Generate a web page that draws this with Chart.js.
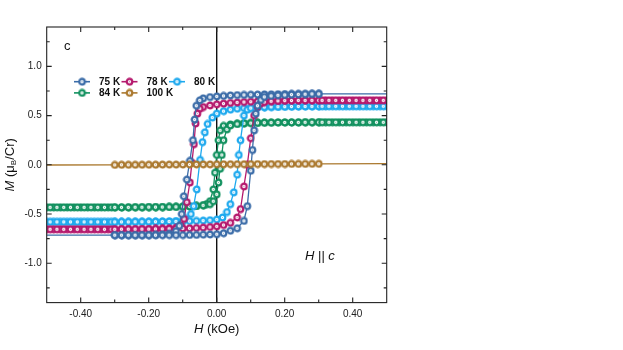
<!DOCTYPE html>
<html>
<head>
<meta charset="utf-8">
<script src="https://cdn.jsdelivr.net/npm/chart.js@4.4.0/dist/chart.umd.min.js"></script>
<style>
  body { margin: 0; background: #fff; }
  canvas { display: block; }
</style>
</head>
<body>
<canvas id="myChart" width="623" height="350"></canvas>
<script>
const temps = ['75 K', '78 K', '80 K', '84 K', '100 K']
const colors = ['#3b6ca8', '#b5196d', '#1ea9ee', '#12915f', '#ab792f']

const xTicks = [-0.4, -0.2, 0, 0.2, 0.4]
const xMinor = [-0.3, -0.1, 0.1, 0.3]
const yTicks = [-1.0, -0.5, 0, 0.5, 1.0]
const yMinor = [-1.25, -0.75, -0.25, 0.25, 0.75, 1.25]

// sweeps, [H (kOe), M (muB/Cr)]
// 75 K and 100 K only have markers between -0.3 and 0.3
const down75 = [[0.50,0.72],[0.30,0.72],[0.28,0.72],[0.26,0.72],[0.24,0.72],[0.22,0.72],[0.20,0.718],[0.18,0.717],[0.16,0.716],[0.14,0.715],[0.12,0.713],[0.10,0.712],[0.08,0.71],[0.06,0.708],[0.04,0.705],[0.02,0.70],[0.00,0.695],[-0.02,0.688],[-0.04,0.675],[-0.05,0.655],[-0.06,0.60],[-0.065,0.46],[-0.07,0.25],[-0.079,0.04],[-0.088,-0.15],[-0.097,-0.32],[-0.103,-0.50],[-0.11,-0.62],[-0.12,-0.675],[-0.14,-0.70],[-0.16,-0.708],[-0.18,-0.712],[-0.20,-0.714],[-0.22,-0.715],[-0.24,-0.715],[-0.26,-0.715],[-0.28,-0.715],[-0.30,-0.715],[-0.50,-0.715]]
const up75 = [[-0.50,-0.715],[-0.30,-0.715],[-0.28,-0.715],[-0.26,-0.715],[-0.24,-0.715],[-0.22,-0.715],[-0.20,-0.715],[-0.18,-0.715],[-0.16,-0.715],[-0.14,-0.715],[-0.12,-0.715],[-0.10,-0.714],[-0.08,-0.713],[-0.06,-0.712],[-0.04,-0.71],[-0.02,-0.708],[0.00,-0.705],[0.02,-0.695],[0.04,-0.67],[0.06,-0.645],[0.08,-0.57],[0.09,-0.42],[0.10,-0.06],[0.105,0.15],[0.11,0.35],[0.115,0.52],[0.12,0.60],[0.13,0.66],[0.14,0.69],[0.16,0.70],[0.18,0.706],[0.20,0.71],[0.22,0.713],[0.24,0.716],[0.26,0.718],[0.28,0.72],[0.30,0.72],[0.50,0.72]]

const down78 = [[0.50,0.655],[0.48,0.655],[0.46,0.655],[0.44,0.655],[0.42,0.655],[0.40,0.655],[0.38,0.655],[0.36,0.655],[0.34,0.655],[0.32,0.655],[0.30,0.655],[0.28,0.654],[0.26,0.654],[0.24,0.653],[0.22,0.652],[0.20,0.651],[0.18,0.65],[0.16,0.648],[0.14,0.646],[0.12,0.644],[0.10,0.641],[0.08,0.638],[0.06,0.634],[0.04,0.629],[0.02,0.622],[0.00,0.614],[-0.02,0.603],[-0.04,0.587],[-0.05,0.57],[-0.057,0.52],[-0.062,0.42],[-0.067,0.21],[-0.073,0.02],[-0.079,-0.18],[-0.088,-0.38],[-0.096,-0.55],[-0.105,-0.615],[-0.12,-0.64],[-0.14,-0.647],[-0.16,-0.65],[-0.18,-0.652],[-0.20,-0.653],[-0.22,-0.653],[-0.24,-0.654],[-0.26,-0.654],[-0.28,-0.654],[-0.30,-0.655],[-0.32,-0.655],[-0.34,-0.655],[-0.36,-0.655],[-0.38,-0.655],[-0.40,-0.655],[-0.42,-0.655],[-0.44,-0.655],[-0.46,-0.655],[-0.48,-0.655],[-0.50,-0.655]]
const up78 = [[-0.49,-0.655],[-0.47,-0.655],[-0.45,-0.655],[-0.43,-0.655],[-0.41,-0.655],[-0.39,-0.655],[-0.37,-0.655],[-0.35,-0.655],[-0.33,-0.655],[-0.31,-0.655],[-0.30,-0.655],[-0.28,-0.654],[-0.26,-0.654],[-0.24,-0.654],[-0.22,-0.653],[-0.20,-0.653],[-0.18,-0.652],[-0.16,-0.651],[-0.14,-0.65],[-0.12,-0.649],[-0.10,-0.647],[-0.08,-0.645],[-0.06,-0.642],[-0.04,-0.638],[-0.02,-0.632],[0.00,-0.625],[0.02,-0.612],[0.04,-0.59],[0.06,-0.535],[0.07,-0.45],[0.08,-0.22],[0.09,0.00],[0.10,0.27],[0.11,0.50],[0.12,0.59],[0.13,0.625],[0.14,0.638],[0.16,0.646],[0.18,0.65],[0.20,0.652],[0.22,0.653],[0.24,0.654],[0.26,0.654],[0.28,0.655],[0.30,0.655],[0.31,0.655],[0.33,0.655],[0.35,0.655],[0.37,0.655],[0.39,0.655],[0.41,0.655],[0.43,0.655],[0.45,0.655],[0.47,0.655],[0.49,0.655]]

const down80 = [[0.50,0.595],[0.48,0.595],[0.46,0.595],[0.44,0.595],[0.42,0.595],[0.40,0.595],[0.38,0.595],[0.36,0.595],[0.34,0.595],[0.32,0.594],[0.30,0.594],[0.28,0.593],[0.26,0.593],[0.24,0.592],[0.22,0.591],[0.20,0.59],[0.18,0.589],[0.16,0.587],[0.14,0.585],[0.12,0.583],[0.10,0.58],[0.08,0.576],[0.06,0.57],[0.04,0.56],[0.02,0.545],[0.00,0.52],[-0.013,0.48],[-0.027,0.415],[-0.035,0.33],[-0.042,0.23],[-0.049,0.05],[-0.059,-0.25],[-0.068,-0.42],[-0.076,-0.50],[-0.09,-0.55],[-0.10,-0.565],[-0.12,-0.572],[-0.14,-0.575],[-0.16,-0.577],[-0.18,-0.578],[-0.20,-0.578],[-0.22,-0.579],[-0.24,-0.579],[-0.26,-0.58],[-0.28,-0.58],[-0.30,-0.58],[-0.32,-0.58],[-0.34,-0.58],[-0.36,-0.58],[-0.38,-0.58],[-0.40,-0.58],[-0.42,-0.58],[-0.44,-0.58],[-0.46,-0.58],[-0.48,-0.58],[-0.50,-0.58]]
const up80 = [[-0.49,-0.58],[-0.47,-0.58],[-0.45,-0.58],[-0.43,-0.58],[-0.41,-0.58],[-0.39,-0.58],[-0.37,-0.58],[-0.35,-0.58],[-0.33,-0.58],[-0.31,-0.58],[-0.30,-0.58],[-0.28,-0.58],[-0.26,-0.58],[-0.24,-0.579],[-0.22,-0.579],[-0.20,-0.578],[-0.18,-0.578],[-0.16,-0.577],[-0.14,-0.576],[-0.12,-0.575],[-0.10,-0.574],[-0.08,-0.572],[-0.06,-0.57],[-0.04,-0.567],[-0.02,-0.563],[0.00,-0.556],[0.017,-0.535],[0.03,-0.48],[0.04,-0.40],[0.05,-0.28],[0.06,-0.10],[0.065,0.10],[0.07,0.25],[0.08,0.50],[0.09,0.56],[0.10,0.576],[0.12,0.584],[0.14,0.587],[0.16,0.589],[0.18,0.59],[0.20,0.591],[0.22,0.592],[0.24,0.593],[0.26,0.593],[0.28,0.594],[0.30,0.594],[0.31,0.595],[0.33,0.595],[0.35,0.595],[0.37,0.595],[0.39,0.595],[0.41,0.595],[0.43,0.595],[0.45,0.595],[0.47,0.595],[0.49,0.595]]

const down84 = [[0.50,0.432],[0.48,0.432],[0.46,0.432],[0.44,0.432],[0.42,0.432],[0.40,0.432],[0.38,0.432],[0.36,0.432],[0.34,0.432],[0.32,0.432],[0.30,0.432],[0.28,0.432],[0.26,0.432],[0.24,0.431],[0.22,0.431],[0.20,0.43],[0.18,0.43],[0.16,0.429],[0.14,0.428],[0.12,0.427],[0.10,0.425],[0.08,0.422],[0.06,0.418],[0.04,0.41],[0.02,0.395],[0.01,0.35],[0.005,0.25],[0.00,0.10],[-0.005,-0.08],[-0.01,-0.25],[-0.02,-0.37],[-0.03,-0.40],[-0.04,-0.41],[-0.06,-0.418],[-0.08,-0.422],[-0.10,-0.425],[-0.12,-0.427],[-0.14,-0.428],[-0.16,-0.429],[-0.18,-0.43],[-0.20,-0.43],[-0.22,-0.431],[-0.24,-0.431],[-0.26,-0.432],[-0.28,-0.432],[-0.30,-0.432],[-0.32,-0.432],[-0.34,-0.432],[-0.36,-0.432],[-0.38,-0.432],[-0.40,-0.432],[-0.42,-0.432],[-0.44,-0.432],[-0.46,-0.432],[-0.48,-0.432],[-0.50,-0.432]]
const up84 = [[-0.49,-0.432],[-0.47,-0.432],[-0.45,-0.432],[-0.43,-0.432],[-0.41,-0.432],[-0.39,-0.432],[-0.37,-0.432],[-0.35,-0.432],[-0.33,-0.432],[-0.31,-0.432],[-0.30,-0.432],[-0.28,-0.432],[-0.26,-0.432],[-0.24,-0.431],[-0.22,-0.431],[-0.20,-0.43],[-0.18,-0.43],[-0.16,-0.429],[-0.14,-0.428],[-0.12,-0.427],[-0.10,-0.425],[-0.08,-0.422],[-0.06,-0.418],[-0.04,-0.412],[-0.02,-0.40],[-0.01,-0.37],[0.00,-0.30],[0.005,-0.18],[0.01,-0.04],[0.015,0.10],[0.02,0.25],[0.03,0.36],[0.04,0.40],[0.06,0.415],[0.08,0.421],[0.10,0.424],[0.12,0.426],[0.14,0.428],[0.16,0.429],[0.18,0.43],[0.20,0.43],[0.22,0.431],[0.24,0.431],[0.26,0.432],[0.28,0.432],[0.30,0.432],[0.31,0.432],[0.33,0.432],[0.35,0.432],[0.37,0.432],[0.39,0.432],[0.41,0.432],[0.43,0.432],[0.45,0.432],[0.47,0.432],[0.49,0.432]]

const sweep100 = [[0.50,0.012],[0.30,0.010],[0.28,0.010],[0.26,0.009],[0.24,0.009],[0.22,0.009],[0.20,0.008],[0.18,0.008],[0.16,0.008],[0.14,0.007],[0.12,0.007],[0.10,0.007],[0.08,0.006],[0.06,0.006],[0.04,0.006],[0.02,0.005],[0.00,0.005],[-0.02,0.004],[-0.04,0.004],[-0.06,0.004],[-0.08,0.003],[-0.10,0.003],[-0.12,0.002],[-0.14,0.002],[-0.16,0.002],[-0.18,0.001],[-0.20,0.001],[-0.22,0.001],[-0.24,0.0],[-0.26,0.0],[-0.28,0.0],[-0.30,-0.001],[-0.50,-0.002]]

const loops = [down75.concat(up75), down78.concat(up78), down80.concat(up80), down84.concat(up84), sweep100]
const drawOrder = [1, 2, 3, 4, 0]

function makeMarker(color) {
    const c = document.createElement('canvas')
    c.width = 9
    c.height = 9
    const g = c.getContext('2d')
    g.beginPath()
    g.arc(4.5, 4.5, 2.8, 0, Math.PI * 2)
    g.fillStyle = '#fff'
    g.fill()
    g.lineWidth = 2.2
    g.strokeStyle = color
    g.stroke()
    g.lineWidth = 0.7
    g.globalAlpha = 0.5
    g.beginPath()
    g.moveTo(3.7, 3.7); g.lineTo(5.3, 5.3)
    g.moveTo(5.3, 3.7); g.lineTo(3.7, 5.3)
    g.stroke()
    return c
}
const markers = colors.map(makeMarker)

const FONT = 'Liberation Sans, Arial, sans-serif'

function drawParts(ctx, parts, x, y, align) {
    let total = 0
    parts.forEach(p => {
        ctx.font = p.font
        total += ctx.measureText(p.t).width
    })
    let cx = align === 'center' ? x - total / 2 : x
    parts.forEach(p => {
        ctx.font = p.font
        ctx.textAlign = 'left'
        ctx.fillText(p.t, cx, y + (p.dy || 0))
        cx += ctx.measureText(p.t).width
    })
}

const framePlugin = {
    id: 'frame',
    beforeDatasetsDraw(chart) {
        const {ctx, chartArea: a, scales: {x}} = chart
        const x0 = x.getPixelForValue(0)
        ctx.save()
        ctx.strokeStyle = '#111'
        ctx.lineWidth = 1.4
        ctx.beginPath()
        ctx.moveTo(x0, a.top)
        ctx.lineTo(x0, a.bottom)
        ctx.stroke()
        ctx.restore()
    },
    afterDraw(chart) {
        const {ctx, chartArea: a, scales: {x, y}} = chart
        ctx.save()
        ctx.strokeStyle = '#222'
        ctx.lineWidth = 1.1
        ctx.strokeRect(a.left, a.top, a.right - a.left, a.bottom - a.top)

        // inward ticks on all four sides
        ctx.beginPath()
        const xt = (v, len) => {
            const px = x.getPixelForValue(v)
            ctx.moveTo(px, a.bottom); ctx.lineTo(px, a.bottom - len)
            ctx.moveTo(px, a.top); ctx.lineTo(px, a.top + len)
        }
        const yt = (v, len) => {
            const py = y.getPixelForValue(v)
            ctx.moveTo(a.left, py); ctx.lineTo(a.left + len, py)
            ctx.moveTo(a.right, py); ctx.lineTo(a.right - len, py)
        }
        xTicks.forEach(v => xt(v, 5))
        xMinor.forEach(v => xt(v, 3))
        yTicks.forEach(v => yt(v, 5))
        yMinor.forEach(v => yt(v, 3))
        ctx.stroke()

        ctx.fillStyle = '#111'
        ctx.textBaseline = 'middle'
        drawParts(ctx, [
            {t: 'H', font: 'italic 13px ' + FONT},
            {t: ' (kOe)', font: '13px ' + FONT}
        ], (a.left + a.right) / 2, 329.5, 'center')

        ctx.save()
        ctx.translate(10, (a.top + a.bottom) / 2)
        ctx.rotate(-Math.PI / 2)
        drawParts(ctx, [
            {t: 'M', font: 'italic 13px ' + FONT},
            {t: ' (\u03bc', font: '13px ' + FONT},
            {t: 'B', font: '8px ' + FONT, dy: 4},
            {t: '/Cr)', font: '13px ' + FONT}
        ], 0, 0, 'center')
        ctx.restore()

        ctx.textBaseline = 'alphabetic'
        ctx.font = '13px ' + FONT
        ctx.fillText('c', 64, 49.5)
        drawParts(ctx, [
            {t: 'H', font: 'italic 13px ' + FONT},
            {t: ' || ', font: '13px ' + FONT},
            {t: 'c', font: 'italic 13px ' + FONT}
        ], 305, 260, 'left')

        // legend, two rows inside the frame
        const legendPos = [[74, 81.7], [121.5, 81.7], [169, 81.7], [74, 92.9], [121.5, 92.9]]
        ctx.textBaseline = 'middle'
        legendPos.forEach((p, i) => {
            const [lx, ly] = p
            ctx.strokeStyle = colors[i]
            ctx.lineWidth = 1.6
            ctx.beginPath()
            ctx.moveTo(lx, ly)
            ctx.lineTo(lx + 16, ly)
            ctx.stroke()
            ctx.drawImage(markers[i], lx + 8 - 4.5, ly - 4.5)
            ctx.fillStyle = '#111'
            ctx.font = 'bold 10px ' + FONT
            ctx.fillText(temps[i], lx + 25, ly + 0.5)
        })
        ctx.restore()
    }
}

const datasets = loops.map((loop, i) => ({
    label: temps[i],
    data: loop.map(p => ({x: p[0], y: p[1]})),
    showLine: true,
    borderColor: colors[i],
    borderWidth: 1.3,
    pointStyle: markers[i],
    pointRadius: (i === 0 || i === 4) ? (c => Math.abs(c.raw.x) > 0.301 ? 0 : 3) : 3,
    order: drawOrder[i]
}))

new Chart(document.getElementById('myChart'), {
    type: 'scatter',
    data: {datasets: datasets},
    options: {
        responsive: false,
        animation: false,
        devicePixelRatio: 1,
        layout: {padding: {left: 0, top: 27, right: 236.3, bottom: 0}},
        plugins: {legend: {display: false}, tooltip: {enabled: false}},
        scales: {
            x: {
                type: 'linear',
                min: -0.5,
                max: 0.5,
                grid: {display: false, drawTicks: false},
                border: {display: false},
                afterBuildTicks: s => { s.ticks = xTicks.map(v => ({value: v})) },
                afterFit: s => { s.height = 47.4 },
                ticks: {
                    padding: 6,
                    color: '#222',
                    font: {family: FONT, size: 10},
                    callback: v => v.toFixed(2)
                }
            },
            y: {
                type: 'linear',
                min: -1.4,
                max: 1.4,
                grid: {display: false, drawTicks: false},
                border: {display: false},
                afterBuildTicks: s => { s.ticks = yTicks.map(v => ({value: v})) },
                afterFit: s => { s.width = 46.7 },
                ticks: {
                    padding: 5,
                    color: '#222',
                    font: {family: FONT, size: 10},
                    callback: v => v.toFixed(1)
                }
            }
        }
    },
    plugins: [framePlugin]
})
</script>
</body>
</html>
